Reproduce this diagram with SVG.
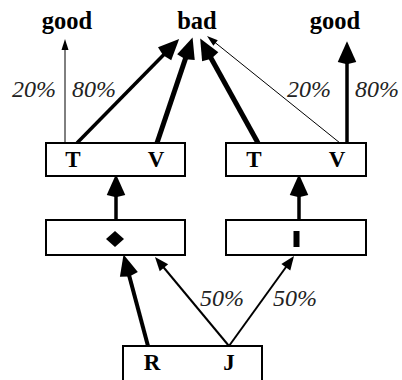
<svg xmlns="http://www.w3.org/2000/svg" width="402" height="380" viewBox="0 0 402 380">
  <style>
    .box { fill: #fff; stroke: #000; stroke-width: 2; }
    .edge { fill: none; stroke: #000; stroke-linecap: butt; }
  </style>
  <defs>
    <marker id="headL" markerUnits="userSpaceOnUse" markerWidth="24" markerHeight="24" viewBox="-1 -10 22 20" refX="0" refY="0" orient="auto" overflow="visible">
      <path d="M-3,0 L-1,-8.5 L18,0 L-1,8.5 Z" fill="#000"/>
    </marker>
    <marker id="headM" markerUnits="userSpaceOnUse" markerWidth="16" markerHeight="16" viewBox="-1 -7 16 14" refX="0" refY="0" orient="auto" overflow="visible">
      <path d="M-1,0 L-1,-5.5 L13,0 L-1,5.5 Z" fill="#000"/>
    </marker>
    <marker id="headS" markerUnits="userSpaceOnUse" markerWidth="12" markerHeight="12" viewBox="-1 -5 12 10" refX="0" refY="0" orient="auto" overflow="visible">
      <path d="M-1,0 L-1,-3.5 L10,0 L-1,3.5 Z" fill="#000"/>
    </marker>
  </defs>

  <g font-family="Liberation Serif, Times New Roman, serif" font-weight="bold" font-size="24.5" text-anchor="middle" fill="#000">
    <!-- outcome labels -->
    <g id="good-left"><text x="67" y="29">good</text></g>
    <g id="bad"><text x="197" y="29">bad</text></g>
    <g id="good-right"><text x="335" y="29">good</text></g>
  </g>

  <!-- connectors -->
  <g id="connectors">
    <line class="edge" x1="65" y1="143" x2="65" y2="49" stroke-width="1" marker-end="url(#headS)"/>
    <line class="edge" x1="77" y1="143" x2="165.4" y2="52.9" stroke-width="3.5" marker-end="url(#headL)"/>
    <line class="edge" x1="157" y1="143" x2="186.3" y2="56.1" stroke-width="5" marker-end="url(#headL)"/>
    <line class="edge" x1="258" y1="143" x2="209.7" y2="55.8" stroke-width="5" marker-end="url(#headL)"/>
    <line class="edge" x1="340" y1="143" x2="214.8" y2="42.3" stroke-width="1" marker-end="url(#headS)"/>
    <line class="edge" x1="347" y1="143" x2="347" y2="61" stroke-width="3.5" marker-end="url(#headL)"/>
    <line class="edge" x1="116" y1="220" x2="116" y2="194" stroke-width="3.5" marker-end="url(#headL)"/>
    <line class="edge" x1="299" y1="220" x2="299" y2="194" stroke-width="3.5" marker-end="url(#headL)"/>
    <line class="edge" x1="148" y1="346" x2="128.6" y2="273.4" stroke-width="4" marker-end="url(#headL)"/>
    <line class="edge" x1="229" y1="346" x2="163.3" y2="267" stroke-width="2" marker-end="url(#headM)"/>
    <line class="edge" x1="229" y1="346" x2="286.4" y2="266.5" stroke-width="2" marker-end="url(#headM)"/>
    <g font-family="Liberation Serif, Times New Roman, serif" font-style="italic" font-size="24" fill="#222">
      <text x="12" y="97">20%</text>
      <text x="72" y="97">80%</text>
      <text x="287" y="97">20%</text>
      <text x="355" y="97">80%</text>
      <text x="200" y="306">50%</text>
      <text x="273" y="306">50%</text>
    </g>
  </g>

  <g font-family="Liberation Serif, Times New Roman, serif" font-weight="bold" font-size="23" text-anchor="middle" fill="#000">
    <!-- upper pair of boxes -->
    <g id="tv-left">
      <rect class="box" x="46" y="143" width="139" height="33"/>
      <text x="73" y="167">T</text>
      <text x="156" y="167">V</text>
    </g>
    <g id="tv-right">
      <rect class="box" x="226" y="143" width="140" height="33"/>
      <text x="254" y="167">T</text>
      <text x="337" y="167">V</text>
    </g>

    <!-- middle pair of boxes -->
    <g id="diamond-box">
      <rect class="box" x="46" y="220" width="139" height="35"/>
      <polygon points="115,231 124,239 115,247 106,239" fill="#000"/>
    </g>
    <g id="bar-box">
      <rect class="box" x="226" y="220" width="140" height="35"/>
      <rect x="293.5" y="231" width="6" height="16" fill="#000"/>
    </g>

    <!-- source box -->
    <g id="rj">
      <rect class="box" x="123" y="346" width="139" height="40"/>
      <text x="152" y="370">R</text>
      <text x="229" y="370">J</text>
    </g>
  </g>
</svg>
